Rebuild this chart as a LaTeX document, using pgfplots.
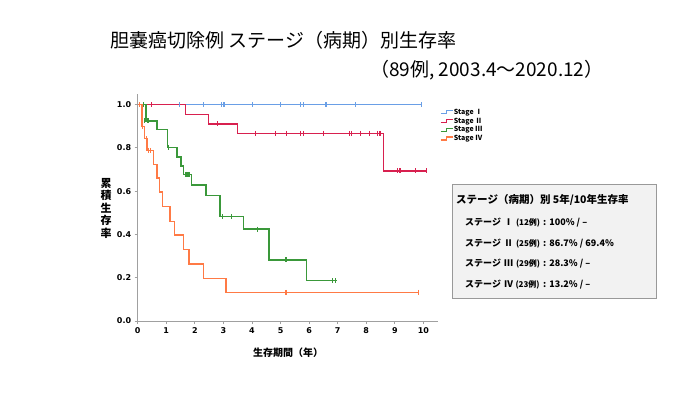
\documentclass[border=0pt]{standalone}
\usepackage{fontspec}
\usepackage{pgfplots}
\pgfplotsset{compat=1.18}
\newfontfamily\jp{Noto Sans CJK JP}
\newfontfamily\dv{DejaVu Sans}
\definecolor{cI}{HTML}{6A9FE6}
\definecolor{cII}{HTML}{D8204F}
\definecolor{cIII}{HTML}{3A983A}
\definecolor{cIV}{HTML}{FF7A45}
\definecolor{axgray}{HTML}{A0A0A0}
\begin{document}
\begin{tikzpicture}[x=1pt,y=1pt]
\path[fill=white] (0pt,0pt) rectangle (700pt,-394pt);
% title
\node[anchor=west, inner sep=0pt, font=\jp\fontsize{19}{22}\selectfont] at (110pt,-40pt) {胆嚢癌切除例 ステージ（病期）別生存率};
\node[anchor=west, inner sep=0pt, font=\jp\fontsize{19}{21}\selectfont] at (370pt,-70pt) {（89例, 2003.4～2020.12）};
\begin{axis}[
  at={(137.7pt,-321pt)}, anchor=south west, scale only axis,
  width=300pt, height=227.3pt,
  xmin=0, xmax=10.5, ymin=0, ymax=1.05,
  axis x line*=bottom, axis y line*=left,
  axis line style={axgray, line width=0.9pt},
  xtick={0,1,...,10}, ytick={0,0.2,0.4,0.6,0.8,1.0},
  tick align=outside, major tick length=3pt,
  tick style={axgray, line width=0.9pt},
  /pgf/number format/assume math mode=true,
  yticklabel style={/pgf/number format/.cd, fixed, fixed zerofill, precision=1},
  ticklabel style={font=\dv\bfseries\fontsize{8}{9}\selectfont},
  legend cell align=left,
  legend style={at={(1.008,0.934)}, anchor=north west, draw=none, fill=none,
    inner sep=0pt, row sep=1.7pt,
    nodes={inner sep=0.5pt, text height=5pt, text depth=1pt},
    font=\jp\bfseries\fontsize{7}{7}\selectfont},
  legend image code/.code={\draw[#1, line width=1.1pt] (0pt,-1.5pt) -- (6pt,-1.5pt) -- (6pt,1.5pt) -- (12pt,1.5pt);},
  clip=false,
]
% Stage I
\addplot[const plot, cI, line width=1.5pt] coordinates {(0,1) (9.94,1)};
\addlegendentry{Stage Ⅰ}
% Stage II
\addplot[const plot, cII, line width=1.5pt] coordinates {(0,1) (1.67,0.955) (2.47,0.911) (3.49,0.867) (8.60,0.693) (10.12,0.693)};
\addlegendentry{Stage Ⅱ}
% Stage III
\addplot[const plot, cIII, line width=1.5pt] coordinates {(0,1) (0.29,0.924) (0.68,0.884) (1.05,0.802) (1.37,0.758) (1.52,0.715) (1.60,0.677) (1.89,0.628) (2.39,0.579) (2.88,0.482) (3.70,0.424) (4.60,0.282) (5.91,0.186) (6.97,0.186)};
\addlegendentry{Stage Ⅲ}
% Stage IV
\addplot[const plot, cIV, line width=1.5pt] coordinates {(0,1) (0.15,0.899) (0.24,0.842) (0.33,0.788) (0.55,0.724) (0.67,0.660) (0.77,0.596) (0.86,0.528) (1.13,0.460) (1.28,0.397) (1.60,0.330) (1.80,0.263) (2.30,0.197) (3.09,0.132) (9.84,0.132)};
\addlegendentry{Stage Ⅳ}
% censor marks
\addplot[forget plot, only marks, mark=|, mark size=2.5pt, cI, mark options={line width=1.2pt}] coordinates {(1.47,1) (2.29,1) (2.94,1) (3.02,1) (4.01,1) (4.99,1) (5.71,1) (5.80,1) (6.59,1) (7.61,1) (9.94,1)};
\addplot[forget plot, only marks, mark=|, mark size=2.5pt, cII, mark options={line width=1.2pt}] coordinates {(0.48,1) (2.80,0.911) (4.11,0.867) (4.81,0.867) (5.20,0.867) (5.71,0.867) (5.80,0.867) (6.50,0.867) (7.41,0.867) (7.49,0.867) (7.81,0.867) (8.11,0.867) (8.40,0.867) (8.48,0.867) (9.10,0.693) (9.18,0.693) (9.71,0.693) (10.12,0.693)};
\addplot[forget plot, only marks, mark=|, mark size=2.5pt, cIII, mark options={line width=1.2pt}] coordinates {(0.21,1) (0.24,0.924) (0.36,0.924) (1.09,0.802) (1.69,0.677) (1.76,0.677) (1.82,0.677) (2.97,0.482) (3.29,0.482) (4.20,0.424) (5.19,0.282) (6.83,0.186) (6.93,0.186)};
\addplot[forget plot, only marks, mark=|, mark size=2.5pt, cIV, mark options={line width=1.2pt}] coordinates {(0.06,1) (0.18,0.899) (0.31,0.842) (0.37,0.788) (0.46,0.788) (5.19,0.132) (9.84,0.132)};
\end{axis}
% axis labels
\node[font=\jp\bfseries\fontsize{11}{12.5}\selectfont, align=center, inner sep=0pt] at (106pt,-208pt) {累\\積\\生\\存\\率};
\node[font=\jp\bfseries\fontsize{10}{12}\selectfont, inner sep=0pt] at (288pt,-353pt) {生存期間（年）};
% text box
\draw[fill=gray!10, draw=gray!80, line width=0.8pt] (452pt,-184pt) rectangle (656pt,-298pt);
\node[anchor=west, inner sep=0pt, font=\jp\bfseries\fontsize{10.5}{12}\selectfont] at (456pt,-200pt) {ステージ（病期）別 5年/10年生存率};
\begin{scope}[every node/.style={anchor=west, inner sep=0pt, font=\jp\bfseries\fontsize{9}{11}\selectfont}]
\node at (465pt,-222.3pt) {ステージ\hspace{3pt}Ⅰ\hspace{3pt}{\fontsize{8}{9}\selectfont (12例)}};
\node at (543pt,-222.3pt) {:\hspace{3pt}100\% / –};
\node at (465pt,-243.3pt) {ステージ\hspace{3pt}Ⅱ\hspace{3pt}{\fontsize{8}{9}\selectfont (25例)}};
\node at (543pt,-243.3pt) {:\hspace{3pt}86.7\% / 69.4\%};
\node at (465pt,-263.8pt) {ステージ\hspace{3pt}Ⅲ\hspace{3pt}{\fontsize{8}{9}\selectfont (29例)}};
\node at (543pt,-263.8pt) {:\hspace{3pt}28.3\% / –};
\node at (465pt,-284.3pt) {ステージ\hspace{3pt}Ⅳ\hspace{2.5pt}{\fontsize{8}{9}\selectfont (23例)}};
\node at (543pt,-284.3pt) {:\hspace{3pt}13.2\% / –};
\end{scope}
\end{tikzpicture}
\end{document}
